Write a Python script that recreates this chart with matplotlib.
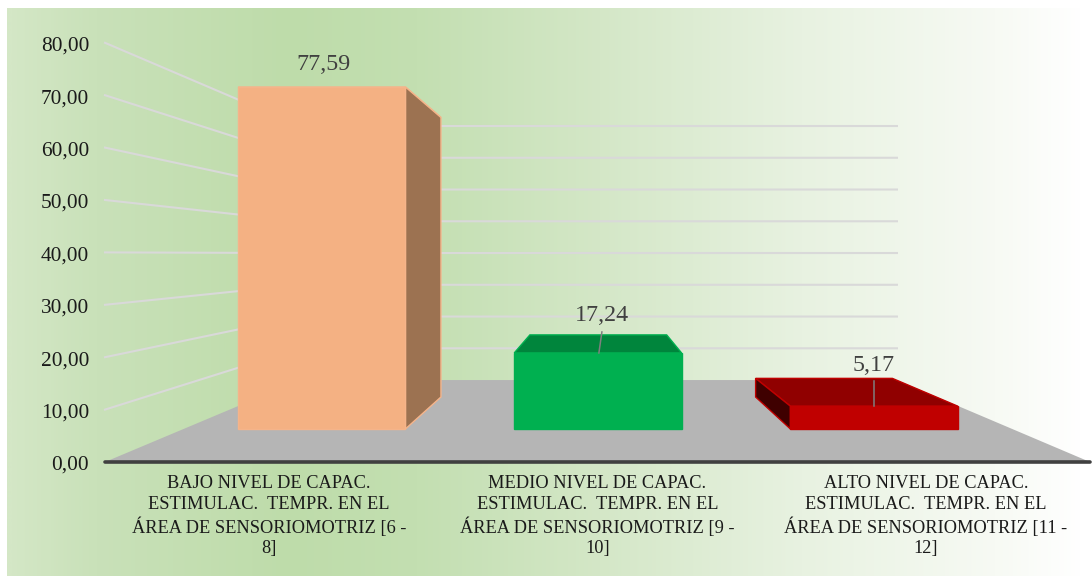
import numpy as np
import matplotlib
matplotlib.use("Agg")
import matplotlib.pyplot as plt
from matplotlib.colors import LinearSegmentedColormap
from matplotlib.patches import Polygon

categories = ["BAJO NIVEL DE CAPAC.\nESTIMULAC.  TEMPR. EN EL\nÁREA DE SENSORIOMOTRIZ [6 -\n8]",
              "MEDIO NIVEL DE CAPAC.\nESTIMULAC.  TEMPR. EN EL\nÁREA DE SENSORIOMOTRIZ [9 -\n10]",
              "ALTO NIVEL DE CAPAC.\nESTIMULAC.  TEMPR. EN EL\nÁREA DE SENSORIOMOTRIZ [11 -\n12]"]
values = [77.59, 17.24, 5.17]
value_labels = ["77,59", "17,24", "5,17"]
ticks = [0, 10, 20, 30, 40, 50, 60, 70, 80]
tick_labels = ["0,00", "10,00", "20,00", "30,00", "40,00", "50,00", "60,00", "70,00", "80,00"]

front_colors = ["#f4b183", "#00b050", "#c00000"]
top_colors = ["#f4b183", "#00853c", "#900000"]
side_colors = ["#9c7251", "#007a38", "#3f0000"]
edge_colors = ["#f5b48a", "#00b050", "#c00000"]

# the fake 3D view, everything in pixels of the 1092x576 picture
X_LEFT = 105
X_RIGHT = 1090
Y_BASE = 462
PX_PER_UNIT = 5.24
VANISH_X = 600
VANISH_Y = 254
DEPTH_FRONT = 0.159
DEPTH_BACK = 0.3125
DEPTH_WALL = 0.394
BAR_WIDTH = 0.606


def project(x, value, depth):
    y = Y_BASE - value * PX_PER_UNIT
    return (VANISH_X + (x - VANISH_X) * (1 - depth),
            VANISH_Y + (y - VANISH_Y) * (1 - depth))


def cat_x(pos):
    return X_LEFT + (X_RIGHT - X_LEFT) * pos / len(categories)


fig = plt.figure(figsize=(10.92, 5.76), dpi=100)
ax = fig.add_axes([0, 0, 1, 1])
ax.set_xlim(0, 1092)
ax.set_ylim(576, 0)
ax.axis("off")
plt.rcParams["font.family"] = ["Liberation Serif", "DejaVu Serif"]

# background
stops = [(0.0, "#d4e7c6"), (0.08, "#c9e1b9"), (0.26, "#bedcaa"), (0.38, "#c3dfb1"),
         (0.55, "#d4e7c7"), (0.74, "#e8f2e1"), (0.92, "#f7faf4"), (1.0, "#ffffff")]
bg = LinearSegmentedColormap.from_list("bg", stops)
ax.imshow(np.linspace(0, 1, 540).reshape(1, -1), cmap=bg, aspect="auto",
          extent=(7, 1085, 576, 8), zorder=0)
ax.set_xlim(0, 1092)
ax.set_ylim(576, 0)

# floor
floor = [project(X_LEFT, 0, 0), project(X_LEFT, 0, DEPTH_WALL),
         project(X_RIGHT, 0, DEPTH_WALL), project(X_RIGHT, 0, 0)]
ax.add_patch(Polygon(floor, closed=True, fc="#b5b5b5", ec="none", zorder=2))

# grid on side wall and back wall
for t, lab in zip(ticks, tick_labels):
    if t > 0:
        p0 = project(X_LEFT, t, 0)
        p1 = project(X_LEFT, t, DEPTH_WALL)
        p2 = project(X_RIGHT, t, DEPTH_WALL)
        ax.plot([p0[0], p1[0], p2[0]], [p0[1], p1[1], p2[1]], color="#d9d9d9", lw=1.5, zorder=1)
    ax.text(89, project(X_LEFT, t, 0)[1] + 3.5, lab, ha="right", va="center",
            fontsize=15.4, color="#1a1a1a", zorder=6)

ax.plot([X_LEFT, X_RIGHT], [Y_BASE, Y_BASE], color="#404040", lw=2.6,
        solid_capstyle="round", zorder=3)

# bars
label_dx = [2, 4, 0]
label_dy = [23, 37, 41]
leader_top = [None, 21, 25]
for i, v in enumerate(values):
    x0 = cat_x(i + 0.5 - BAR_WIDTH / 2)
    x1 = cat_x(i + 0.5 + BAR_WIDTH / 2)
    top = [project(x0, v, DEPTH_FRONT), project(x1, v, DEPTH_FRONT),
           project(x1, v, DEPTH_BACK), project(x0, v, DEPTH_BACK)]
    ax.add_patch(Polygon(top, closed=True, fc=top_colors[i], ec=edge_colors[i], lw=1, zorder=4))
    # side face: the one turned towards the middle of the chart, goes over the top
    xs = x1 if x1 < VANISH_X else x0
    if x1 < VANISH_X or x0 > VANISH_X:
        side = [project(xs, 0, DEPTH_FRONT), project(xs, v, DEPTH_FRONT),
                project(xs, v, DEPTH_BACK), project(xs, 0, DEPTH_BACK)]
        ax.add_patch(Polygon(side, closed=True, fc=side_colors[i], ec=edge_colors[i], lw=1, zorder=4))
    fl = project(x0, v, DEPTH_FRONT)
    fr = project(x1, 0, DEPTH_FRONT)
    front = [project(x0, 0, DEPTH_FRONT), fl, project(x1, v, DEPTH_FRONT), fr]
    ax.add_patch(Polygon(front, closed=True, fc=front_colors[i], ec=edge_colors[i], lw=1, zorder=5))

    cx = (fl[0] + fr[0]) / 2
    ax.text(cx + label_dx[i], fl[1] - label_dy[i], value_labels[i], ha="center", va="center",
            fontsize=17.3, color="#404040", zorder=7)
    if leader_top[i] is not None:
        ax.plot([cx + label_dx[i] - 3 * (i == 1), cx + label_dx[i]], [fl[1], fl[1] - leader_top[i]],
                color="#7f7f7f", lw=1.1, zorder=6)

    ax.text(cat_x(i + 0.5), 475.5, categories[i], ha="center", va="top", fontsize=13.2,
            color="#1a1a1a", linespacing=1.27, zorder=6)

fig.savefig("out.png", dpi=100, facecolor="white")
